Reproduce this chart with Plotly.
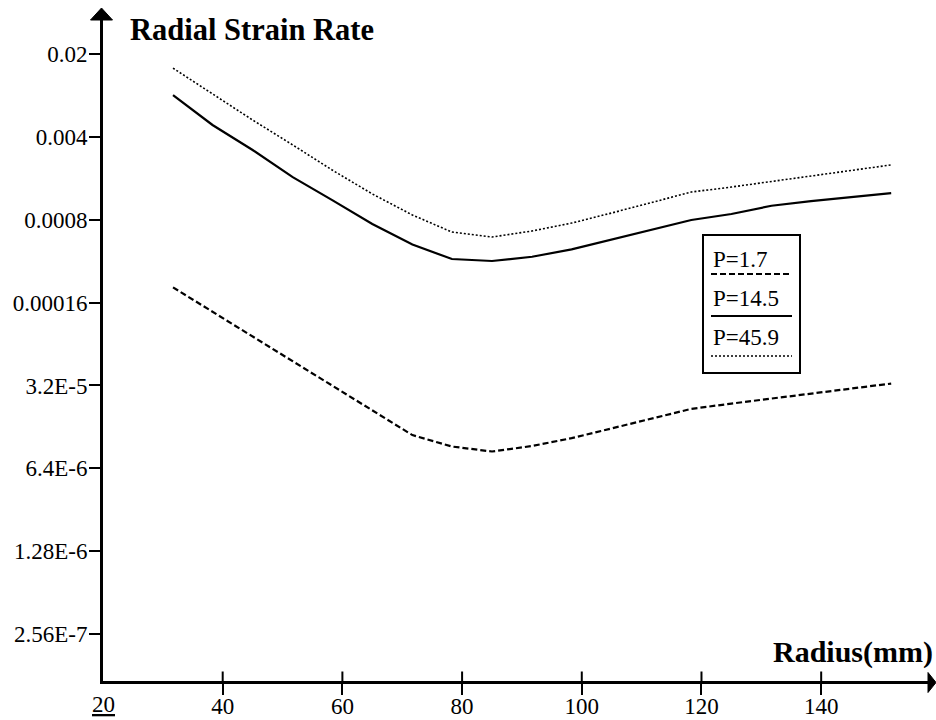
import math
import plotly.graph_objects as go

# Radius (mm) at which the strain rate was evaluated
radius = [31.7, 38.3, 45.0, 51.7, 58.3, 65.0, 71.7, 78.3, 85.0, 91.7,
          98.3, 105.0, 111.7, 118.3, 125.0, 131.7, 138.3, 145.0, 151.7]

# Radial strain rate for each pressure level
rate_p1_7 = [2.15e-4, 1.34e-4, 8.33e-5, 5.16e-5, 3.20e-5, 1.98e-5, 1.22e-5, 9.77e-6, 8.87e-6, 9.87e-6,
             1.15e-5, 1.39e-5, 1.68e-5, 2.03e-5, 2.25e-5, 2.47e-5, 2.73e-5, 3.01e-5, 3.32e-5]
rate_p14_5 = [9.02e-3, 5.04e-3, 3.10e-3, 1.83e-3, 1.17e-3, 7.36e-4, 4.94e-4, 3.73e-4, 3.59e-4, 3.90e-4,
              4.50e-4, 5.43e-4, 6.55e-4, 7.96e-4, 8.94e-4, 1.05e-3, 1.15e-3, 1.24e-3, 1.34e-3]
rate_p45_9 = [1.52e-2, 9.20e-3, 5.55e-3, 3.42e-3, 2.10e-3, 1.32e-3, 8.77e-4, 6.30e-4, 5.72e-4, 6.43e-4,
              7.50e-4, 9.12e-4, 1.12e-3, 1.37e-3, 1.51e-3, 1.68e-3, 1.87e-3, 2.08e-3, 2.32e-3]

series_names = ["P=1.7", "P=14.5", "P=45.9"]

# Axis ticks (the origin label 20 sits on the corner without a tick of its own)
x_origin = 20
x_ticks = [40, 60, 80, 100, 120, 140]
y_ticks = [2.56e-7, 1.28e-6, 6.4e-6, 3.2e-5, 1.6e-4, 8e-4, 4e-3, 2e-2]
y_ticktext = ["2.56E-7", "1.28E-6", "6.4E-6", "3.2E-5", "0.00016", "0.0008", "0.004", "0.02"]

W, H = 936, 720
ML, MR, MT, MB = 103, 8, 20, 39
PW, PH = W - ML - MR, H - MT - MB

X_RANGE = [20, 157.85]
Y_RANGE = [-6.988, -1.412]  # log10 limits

FONT = "Liberation Serif, Times New Roman, serif"
BLACK = "#000000"
TICKLEN = 11


def pxx(x):
    """pixel column -> paper x"""
    return (x - ML) / PW


def pxy(y):
    """pixel row -> paper y"""
    return (H - MB - y) / PH


fig = go.Figure()

styles = [
    dict(color=BLACK, width=2.2, dash="6px,3px"),
    dict(color=BLACK, width=2.2, dash="solid"),
    dict(color=BLACK, width=1.6, dash="2px,2px"),
]
for name, vals, st in zip(series_names, [rate_p1_7, rate_p14_5, rate_p45_9], styles):
    fig.add_trace(go.Scatter(x=radius, y=vals, mode="lines", name=name,
                             line=st, showlegend=False, hoverinfo="skip"))

tickfont = dict(family=FONT, size=23, color=BLACK)

fig.update_layout(
    width=W, height=H,
    margin=dict(l=ML, r=MR, t=MT, b=MB, pad=0),
    paper_bgcolor="white", plot_bgcolor="white",
    xaxis=dict(range=X_RANGE, tickvals=x_ticks, showgrid=False, zeroline=False,
               ticks="outside", ticklen=TICKLEN, tickwidth=2, tickcolor=BLACK,
               tickfont=tickfont, showline=True, linecolor=BLACK, linewidth=3,
               automargin=False, ticklabelstandoff=-9),
    yaxis=dict(type="log", range=Y_RANGE, tickvals=y_ticks, ticktext=y_ticktext,
               showgrid=False, zeroline=False,
               ticks="outside", ticklen=TICKLEN, tickwidth=2, tickcolor=BLACK,
               tickfont=tickfont, showline=True, linecolor=BLACK, linewidth=3,
               automargin=False, ticklabelstandoff=-3),
)

shapes = []
ax_x = ML - 1.5          # pixel column of the y axis line
ax_y = H - MB + 1.5      # pixel row of the x axis line

# inner halves of the ticks, so each tick crosses its axis
for t in x_ticks:
    shapes.append(dict(type="line", xref="x", yref="paper", x0=t, x1=t,
                       y0=pxy(ax_y), y1=pxy(ax_y - TICKLEN),
                       line=dict(color=BLACK, width=2)))
for t in y_ticks:
    lv = math.log10(t)
    shapes.append(dict(type="line", xref="paper", yref="y", x0=pxx(ax_x), x1=pxx(ax_x + TICKLEN),
                       y0=lv, y1=lv, line=dict(color=BLACK, width=2)))

# arrow heads on the axes
shapes.append(dict(type="path", xref="paper", yref="paper",
                   path=f"M {pxx(ax_x - 11)} {pxy(MT)} L {pxx(ax_x)} {pxy(8)} L {pxx(ax_x + 11)} {pxy(MT)} Z",
                   fillcolor=BLACK, line=dict(color=BLACK, width=1)))
shapes.append(dict(type="path", xref="paper", yref="paper",
                   path=f"M {pxx(W - MR)} {pxy(ax_y - 10)} L {pxx(W)} {pxy(ax_y)} L {pxx(W - MR)} {pxy(ax_y + 10)} Z",
                   fillcolor=BLACK, line=dict(color=BLACK, width=1)))

# legend box
shapes.append(dict(type="rect", xref="paper", yref="paper",
                   x0=pxx(703), x1=pxx(800), y0=pxy(373), y1=pxy(235),
                   line=dict(color=BLACK, width=2), fillcolor="rgba(0,0,0,0)"))
legend_rows = [(259, 274), (298, 316), (337, 356)]
for (ty, ly), name, st in zip(legend_rows, series_names, styles):
    shapes.append(dict(type="line", xref="paper", yref="paper",
                       x0=pxx(711), x1=pxx(792), y0=pxy(ly), y1=pxy(ly),
                       line=dict(color=BLACK, width=st["width"], dash=st["dash"])))
fig.update_layout(shapes=shapes)

annotations = [
    dict(text="<b>Radial Strain Rate</b>", x=pxx(128), y=pxy(30), xref="paper", yref="paper",
         xanchor="left", yanchor="middle", showarrow=False,
         font=dict(family=FONT, size=30.5, color=BLACK)),
    dict(text="<b>Radius(mm)</b>", x=pxx(935), y=pxy(652), xref="paper", yref="paper",
         xanchor="right", yanchor="middle", showarrow=False,
         font=dict(family=FONT, size=30, color=BLACK)),
    dict(text=f"<u>{x_origin}</u>", x=x_origin, xref="x", y=pxy(705), yref="paper",
         xanchor="center", yanchor="middle", showarrow=False, font=tickfont),
]
for (ty, ly), name in zip(legend_rows, series_names):
    annotations.append(dict(text=name, x=pxx(711), y=pxy(ty), xref="paper", yref="paper",
                            xanchor="left", yanchor="middle", showarrow=False,
                            font=dict(family=FONT, size=23, color=BLACK)))
fig.update_layout(annotations=annotations)

fig.write_html("out.html")
